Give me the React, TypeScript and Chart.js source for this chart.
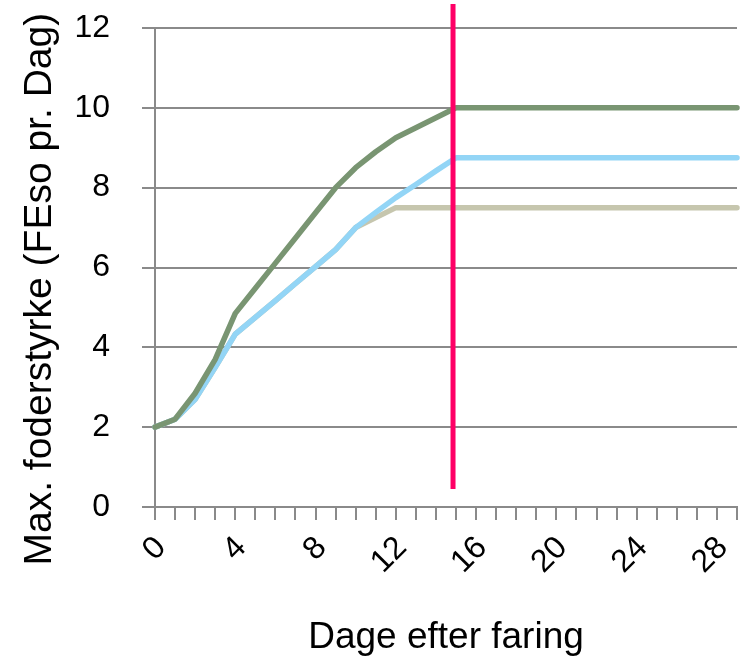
import React, { useEffect, useRef } from 'react';
import { Chart, registerables } from 'chart.js';

Chart.register(...registerables);

// ---- data ----
const days = [0, 1, 2, 3, 4, 5, 6, 7, 8, 9, 10, 11, 12, 13, 14, 15, 16, 17, 18, 19, 20, 21, 22, 23, 24, 25, 26, 27, 28, 29];
const xLabelDays = [0, 4, 8, 12, 16, 20, 24, 28];
const yTicks = [0, 2, 4, 6, 8, 10, 12];

const greenValues = [2.0, 2.2, 2.85, 3.7, 4.85, 5.48, 6.11, 6.74, 7.37, 8.0, 8.5, 8.9, 9.25, 9.5, 9.75, 10, 10, 10, 10, 10, 10, 10, 10, 10, 10, 10, 10, 10, 10, 10];
const blueValues = [2.0, 2.2, 2.7, 3.5, 4.33, 4.75, 5.17, 5.6, 6.02, 6.45, 7.0, 7.38, 7.75, 8.08, 8.42, 8.75, 8.75, 8.75, 8.75, 8.75, 8.75, 8.75, 8.75, 8.75, 8.75, 8.75, 8.75, 8.75, 8.75, 8.75];
const beigeValues = [2.0, 2.2, 2.7, 3.5, 4.33, 4.75, 5.17, 5.6, 6.02, 6.45, 7.0, 7.25, 7.5, 7.5, 7.5, 7.5, 7.5, 7.5, 7.5, 7.5, 7.5, 7.5, 7.5, 7.5, 7.5, 7.5, 7.5, 7.5, 7.5, 7.5];

const markerDay = 14.85;
const markerFrom = 0.45;
const markerTo = 12.6;

const xTitle = 'Dage efter faring';
const yTitle = 'Max. foderstyrke (FEso pr. Dag)\u00a0\u00a0\u00a0\u00a0';

const FONT = "'Liberation Sans', Arial, sans-serif";
const GRID = '#8a8a8a';

const toPoints = (vals: number[]) => days.map((d, i) => ({ x: d, y: vals[i] }));

export default function App() {
  const ref = useRef<HTMLCanvasElement | null>(null);

  useEffect(() => {
    if (!ref.current) return;
    const lineStyle = {
      borderWidth: 5.5,
      pointRadius: 0,
      pointHoverRadius: 0,
      borderCapStyle: 'round' as const,
      borderJoinStyle: 'round' as const,
      tension: 0,
      fill: false,
      clip: false as const,
    };
    const chart = new Chart(ref.current, {
      type: 'line',
      data: {
        datasets: [
          {
            label: 'marker',
            data: [
              { x: markerDay, y: markerFrom },
              { x: markerDay, y: markerTo },
            ],
            borderColor: '#ff0066',
            borderWidth: 5,
            pointRadius: 0,
            borderCapStyle: 'butt',
            clip: false,
          },
          { label: 'green', data: toPoints(greenValues), borderColor: '#799572', ...lineStyle },
          { label: 'blue', data: toPoints(blueValues), borderColor: '#93d5f6', ...lineStyle },
          { label: 'beige', data: toPoints(beigeValues), borderColor: '#c6c6ae', ...lineStyle },
        ],
      },
      options: {
        responsive: false,
        animation: false,
        devicePixelRatio: 1,
        layout: { padding: { top: 28, right: 3, left: 0, bottom: 0 } },
        plugins: { legend: { display: false }, tooltip: { enabled: false } },
        scales: {
          x: {
            type: 'linear',
            min: days[0],
            max: days[days.length - 1],
            grid: { drawOnChartArea: false, drawTicks: true, tickLength: 13, color: GRID, lineWidth: 2 },
            border: { display: true, color: GRID, width: 2 },
            ticks: {
              stepSize: 1,
              autoSkip: false,
              minRotation: 45,
              maxRotation: 45,
              padding: 9,
              labelOffset: 6,
              color: '#000',
              font: { family: FONT, size: 32 },
              callback: (v: any) => (xLabelDays.includes(Number(v)) ? String(v) : ''),
            },
            title: {
              display: true,
              text: xTitle,
              color: '#000',
              font: { family: FONT, size: 37 },
              padding: { top: 0, bottom: 2 },
            },
            afterFit: (s: any) => {
              s.height = 155;
              s.paddingLeft = 0;
              s.paddingRight = 0;
            },
          },
          y: {
            min: yTicks[0],
            max: yTicks[yTicks.length - 1],
            grid: { color: GRID, lineWidth: 2, tickLength: 13, drawTicks: true },
            border: { display: true, color: GRID, width: 2 },
            ticks: {
              stepSize: 2,
              padding: 32,
              color: '#000',
              font: { family: FONT, size: 32 },
            },
            title: {
              display: true,
              text: yTitle,
              color: '#000',
              font: { family: FONT, size: 39 },
              padding: { top: 17, bottom: 0 },
            },
            afterFit: (s: any) => {
              s.width = 155;
              s.paddingTop = 0;
              s.paddingBottom = 0;
            },
          },
        },
      },
    } as any);
    return () => chart.destroy();
  }, []);

  return (
    <div style={{ position: 'fixed', left: 0, top: 0, width: 740, height: 662, background: '#fff' }}>
      <canvas ref={ref} width={740} height={662} style={{ width: 740, height: 662 }} />
    </div>
  );
}
